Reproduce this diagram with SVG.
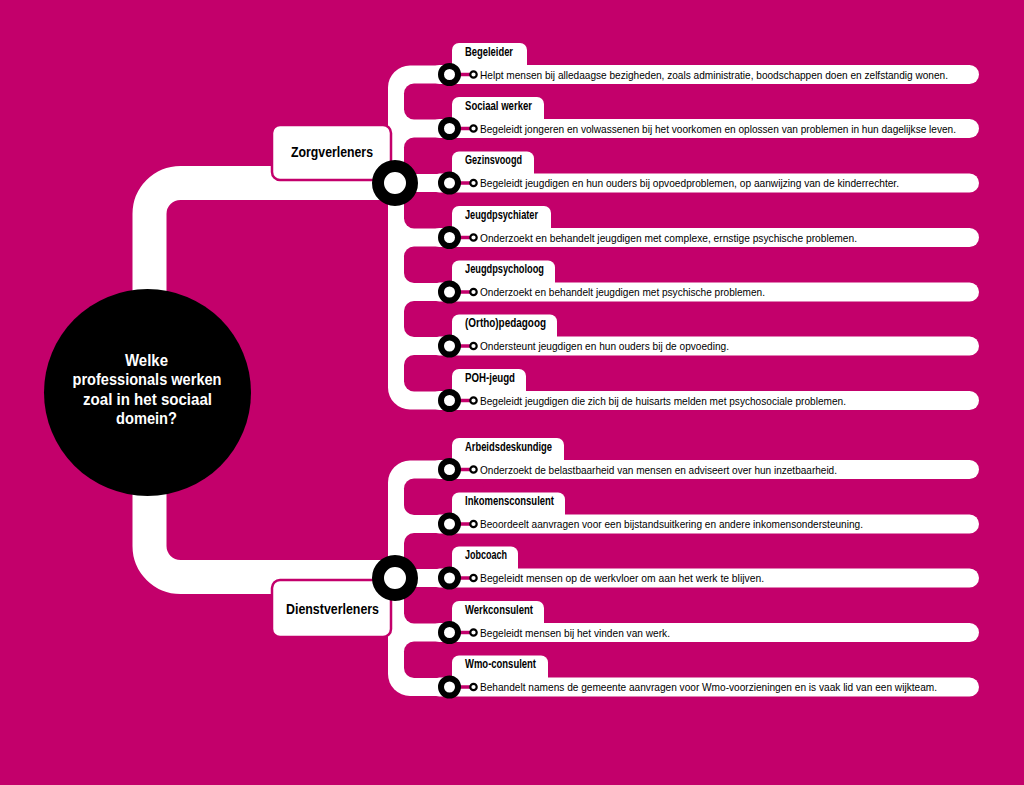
<svg xmlns="http://www.w3.org/2000/svg" width="1024" height="785" viewBox="0 0 1024 785">
<style>
.bg{fill:#C3006B}
.trk{fill:none;stroke:#fff;stroke-width:34}
.wh{fill:#fff}
.cut{fill:#C3006B}
.box{fill:#fff;stroke:#C3006B;stroke-width:2.5}
.hub{fill:#fff;stroke:#000;stroke-width:12}
.bar{fill:#fff}
.tab{fill:#fff}
.ring{fill:#fff;stroke:#000;stroke-width:6}
.lnk{stroke:#C3006B;stroke-width:3.5}
.sr{fill:#fff;stroke:#000;stroke-width:2.2}
.t{font-family:"Liberation Sans",Arial,sans-serif;font-size:11.2px;fill:#000}
.h{font-family:"Liberation Sans",Arial,sans-serif;font-size:12px;font-weight:bold;fill:#000}
.cat{font-family:"Liberation Sans",Arial,sans-serif;font-size:15px;font-weight:bold;fill:#000}
.root{font-family:"Liberation Sans",Arial,sans-serif;font-size:16px;font-weight:bold;fill:#fff}
</style>
<rect class="bg" x="0" y="0" width="1024" height="785"/>

<g id="connectors">
  <path class="trk" d="M395 183 H180.5 A31 31 0 0 0 149.5 214 V546 A31 31 0 0 0 180.5 577 H395"/>
  <path class="wh" d="M388 87.5 A22 22 0 0 1 410 65.5 H440 V409.5 H410 A22 22 0 0 1 388 387.5 Z"/>
  <rect class="cut" x="404" y="83.5" width="80" height="36" rx="10"/>
  <rect class="cut" x="404" y="137.5" width="80" height="36.5" rx="10"/>
  <rect class="cut" x="404" y="192" width="80" height="36.5" rx="10"/>
  <rect class="cut" x="404" y="246.5" width="80" height="36.5" rx="10"/>
  <rect class="cut" x="404" y="301" width="80" height="36" rx="10"/>
  <rect class="cut" x="404" y="355" width="80" height="36.5" rx="10"/>
  <path class="wh" d="M388 482.5 A22 22 0 0 1 410 460.5 H440 V696 H410 A22 22 0 0 1 388 674 Z"/>
  <rect class="cut" x="404" y="478.5" width="80" height="36.5" rx="10"/>
  <rect class="cut" x="404" y="533" width="80" height="36" rx="10"/>
  <rect class="cut" x="404" y="587" width="80" height="36.5" rx="10"/>
  <rect class="cut" x="404" y="641.5" width="80" height="36.5" rx="10"/>
</g>

<g id="zorgverleners">
  <rect class="box" x="272" y="125" width="119" height="55" rx="8"/>
  <text class="cat" x="291" y="157" textLength="82" lengthAdjust="spacingAndGlyphs">Zorgverleners</text>
  <circle class="hub" cx="395" cy="183" r="17"/>
</g>

<g id="dienstverleners">
  <rect class="box" x="272" y="580" width="119" height="57" rx="8"/>
  <text class="cat" x="286" y="614" textLength="93" lengthAdjust="spacingAndGlyphs">Dienstverleners</text>
  <circle class="hub" cx="395" cy="578" r="17"/>
</g>

<g id="root">
  <circle cx="147.5" cy="392.5" r="103.5" fill="#000"/>
  <text class="root" x="125" y="366" textLength="43" lengthAdjust="spacingAndGlyphs">Welke</text>
  <text class="root" x="72.5" y="385" textLength="149" lengthAdjust="spacingAndGlyphs">professionals werken</text>
  <text class="root" x="83" y="404.5" textLength="129" lengthAdjust="spacingAndGlyphs">zoal in het sociaal</text>
  <text class="root" x="116" y="424" textLength="61" lengthAdjust="spacingAndGlyphs">domein?</text>
</g>

<g id="begeleider">
  <rect class="tab" x="452" y="43" width="75" height="30" rx="7"/>
  <rect class="bar" x="430" y="65" width="549" height="19" rx="9.5"/>
  <line class="lnk" x1="458" y1="74.5" x2="471" y2="74.5"/>
  <circle class="ring" cx="449.5" cy="74.5" r="8.5"/>
  <circle class="sr" cx="473.5" cy="74.5" r="3.2"/>
  <text class="h" x="465" y="55.5" textLength="48" lengthAdjust="spacingAndGlyphs">Begeleider</text>
  <text class="t" x="480" y="78.5" textLength="468" lengthAdjust="spacingAndGlyphs">Helpt mensen bij alledaagse bezigheden, zoals administratie, boodschappen doen en zelfstandig wonen.</text>
</g>

<g id="sociaal-werker">
  <rect class="tab" x="452" y="97" width="92" height="30" rx="7"/>
  <rect class="bar" x="430" y="119" width="549" height="19" rx="9.5"/>
  <line class="lnk" x1="458" y1="128.5" x2="471" y2="128.5"/>
  <circle class="ring" cx="449.5" cy="128.5" r="8.5"/>
  <circle class="sr" cx="473.5" cy="128.5" r="3.2"/>
  <text class="h" x="465" y="109.5" textLength="67" lengthAdjust="spacingAndGlyphs">Sociaal werker</text>
  <text class="t" x="480" y="132.5" textLength="476" lengthAdjust="spacingAndGlyphs">Begeleidt jongeren en volwassenen bij het voorkomen en oplossen van problemen in hun dagelijkse leven.</text>
</g>

<g id="gezinsvoogd">
  <rect class="tab" x="452" y="151.5" width="82" height="30" rx="7"/>
  <rect class="bar" x="430" y="173.5" width="549" height="19" rx="9.5"/>
  <line class="lnk" x1="458" y1="183" x2="471" y2="183"/>
  <circle class="ring" cx="449.5" cy="183" r="8.5"/>
  <circle class="sr" cx="473.5" cy="183" r="3.2"/>
  <text class="h" x="465" y="164" textLength="57" lengthAdjust="spacingAndGlyphs">Gezinsvoogd</text>
  <text class="t" x="480" y="187" textLength="419" lengthAdjust="spacingAndGlyphs">Begeleidt jeugdigen en hun ouders bij opvoedproblemen, op aanwijzing van de kinderrechter.</text>
</g>

<g id="jeugdpsychiater">
  <rect class="tab" x="452" y="206" width="99" height="30" rx="7"/>
  <rect class="bar" x="430" y="228" width="549" height="19" rx="9.5"/>
  <line class="lnk" x1="458" y1="237.5" x2="471" y2="237.5"/>
  <circle class="ring" cx="449.5" cy="237.5" r="8.5"/>
  <circle class="sr" cx="473.5" cy="237.5" r="3.2"/>
  <text class="h" x="465" y="218.5" textLength="73" lengthAdjust="spacingAndGlyphs">Jeugdpsychiater</text>
  <text class="t" x="480" y="241.5" textLength="377" lengthAdjust="spacingAndGlyphs">Onderzoekt en behandelt jeugdigen met complexe, ernstige psychische problemen.</text>
</g>

<g id="jeugdpsycholoog">
  <rect class="tab" x="452" y="260.5" width="103" height="30" rx="7"/>
  <rect class="bar" x="430" y="282.5" width="549" height="19" rx="9.5"/>
  <line class="lnk" x1="458" y1="292" x2="471" y2="292"/>
  <circle class="ring" cx="449.5" cy="292" r="8.5"/>
  <circle class="sr" cx="473.5" cy="292" r="3.2"/>
  <text class="h" x="465" y="273" textLength="79" lengthAdjust="spacingAndGlyphs">Jeugdpsycholoog</text>
  <text class="t" x="480" y="296" textLength="285" lengthAdjust="spacingAndGlyphs">Onderzoekt en behandelt jeugdigen met psychische problemen.</text>
</g>

<g id="orthopedagoog">
  <rect class="tab" x="452" y="314.5" width="105" height="30" rx="7"/>
  <rect class="bar" x="430" y="336.5" width="549" height="19" rx="9.5"/>
  <line class="lnk" x1="458" y1="346" x2="471" y2="346"/>
  <circle class="ring" cx="449.5" cy="346" r="8.5"/>
  <circle class="sr" cx="473.5" cy="346" r="3.2"/>
  <text class="h" x="465" y="327" textLength="81" lengthAdjust="spacingAndGlyphs">(Ortho)pedagoog</text>
  <text class="t" x="480" y="350" textLength="249" lengthAdjust="spacingAndGlyphs">Ondersteunt jeugdigen en hun ouders bij de opvoeding.</text>
</g>

<g id="poh-jeugd">
  <rect class="tab" x="452" y="369" width="74" height="30" rx="7"/>
  <rect class="bar" x="430" y="391" width="549" height="19" rx="9.5"/>
  <line class="lnk" x1="458" y1="400.5" x2="471" y2="400.5"/>
  <circle class="ring" cx="449.5" cy="400.5" r="8.5"/>
  <circle class="sr" cx="473.5" cy="400.5" r="3.2"/>
  <text class="h" x="465" y="381.5" textLength="50" lengthAdjust="spacingAndGlyphs">POH-jeugd</text>
  <text class="t" x="480" y="404.5" textLength="366" lengthAdjust="spacingAndGlyphs">Begeleidt jeugdigen die zich bij de huisarts melden met psychosociale problemen.</text>
</g>

<g id="arbeidsdeskundige">
  <rect class="tab" x="452" y="438" width="112" height="30" rx="7"/>
  <rect class="bar" x="430" y="460" width="549" height="19" rx="9.5"/>
  <line class="lnk" x1="458" y1="469.5" x2="471" y2="469.5"/>
  <circle class="ring" cx="449.5" cy="469.5" r="8.5"/>
  <circle class="sr" cx="473.5" cy="469.5" r="3.2"/>
  <text class="h" x="465" y="450.5" textLength="87" lengthAdjust="spacingAndGlyphs">Arbeidsdeskundige</text>
  <text class="t" x="480" y="473.5" textLength="357" lengthAdjust="spacingAndGlyphs">Onderzoekt de belastbaarheid van mensen en adviseert over hun inzetbaarheid.</text>
</g>

<g id="inkomensconsulent">
  <rect class="tab" x="452" y="492.5" width="113" height="30" rx="7"/>
  <rect class="bar" x="430" y="514.5" width="549" height="19" rx="9.5"/>
  <line class="lnk" x1="458" y1="524" x2="471" y2="524"/>
  <circle class="ring" cx="449.5" cy="524" r="8.5"/>
  <circle class="sr" cx="473.5" cy="524" r="3.2"/>
  <text class="h" x="465" y="505" textLength="89" lengthAdjust="spacingAndGlyphs">Inkomensconsulent</text>
  <text class="t" x="480" y="528" textLength="383" lengthAdjust="spacingAndGlyphs">Beoordeelt aanvragen voor een bijstandsuitkering en andere inkomensondersteuning.</text>
</g>

<g id="jobcoach">
  <rect class="tab" x="452" y="546.5" width="66" height="30" rx="7"/>
  <rect class="bar" x="430" y="568.5" width="549" height="19" rx="9.5"/>
  <line class="lnk" x1="458" y1="578" x2="471" y2="578"/>
  <circle class="ring" cx="449.5" cy="578" r="8.5"/>
  <circle class="sr" cx="473.5" cy="578" r="3.2"/>
  <text class="h" x="465" y="559" textLength="42" lengthAdjust="spacingAndGlyphs">Jobcoach</text>
  <text class="t" x="480" y="582" textLength="284" lengthAdjust="spacingAndGlyphs">Begeleidt mensen op de werkvloer om aan het werk te blijven.</text>
</g>

<g id="werkconsulent">
  <rect class="tab" x="452" y="601" width="92" height="30" rx="7"/>
  <rect class="bar" x="430" y="623" width="549" height="19" rx="9.5"/>
  <line class="lnk" x1="458" y1="632.5" x2="471" y2="632.5"/>
  <circle class="ring" cx="449.5" cy="632.5" r="8.5"/>
  <circle class="sr" cx="473.5" cy="632.5" r="3.2"/>
  <text class="h" x="465" y="613.5" textLength="68" lengthAdjust="spacingAndGlyphs">Werkconsulent</text>
  <text class="t" x="480" y="636.5" textLength="190" lengthAdjust="spacingAndGlyphs">Begeleidt mensen bij het vinden van werk.</text>
</g>

<g id="wmo-consulent">
  <rect class="tab" x="452" y="655.5" width="96" height="30" rx="7"/>
  <rect class="bar" x="430" y="677.5" width="549" height="19" rx="9.5"/>
  <line class="lnk" x1="458" y1="687" x2="471" y2="687"/>
  <circle class="ring" cx="449.5" cy="687" r="8.5"/>
  <circle class="sr" cx="473.5" cy="687" r="3.2"/>
  <text class="h" x="465" y="668" textLength="71" lengthAdjust="spacingAndGlyphs">Wmo-consulent</text>
  <text class="t" x="480" y="691" textLength="457" lengthAdjust="spacingAndGlyphs">Behandelt namens de gemeente aanvragen voor Wmo-voorzieningen en is vaak lid van een wijkteam.</text>
</g>
</svg>
